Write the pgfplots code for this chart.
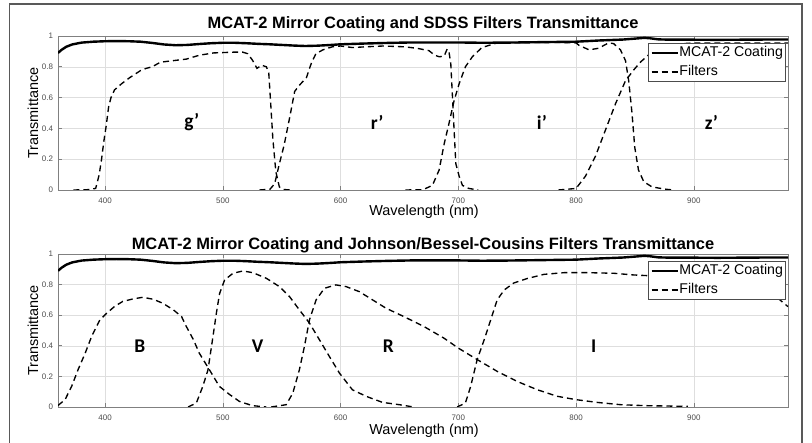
\documentclass[border=0pt]{standalone}
\usepackage{pgfplots}
\pgfplotsset{compat=1.18}
\usepackage{fontspec}
\setmainfont{Liberation Sans}
\newfontfamily\calibri{Carlito}

\tikzset{
  coat/.style={black, line width=2.4bp, solid},
  filt/.style={black, line width=1.35bp, dash pattern=on 6bp off 4bp},
  flab/.style={font=\calibri\bfseries\fontsize{19.5}{21}\selectfont},
}
\pgfplotsset{
  panel/.style={
    scale only axis, width=730bp, height=154bp,
    xmin=360, xmax=980, ymin=0, ymax=1,
    xtick={400,500,600,700,800,900},
    xticklabels={400,500,600,700,800,900},
    ytick={0,0.2,0.4,0.6,0.8,1},
    yticklabels={0,0.2,0.4,0.6,0.8,1},
    grid=major, major grid style={black!13, line width=0.5bp},
    axis line style={black!50, line width=0.7bp},
    tick style={black!50, line width=0.6bp}, tick align=inside, major tick length=4bp,
    ticklabel style={font=\fontsize{8}{9}\selectfont, text=black!70},
    xticklabel style={yshift=-4bp}, yticklabel style={xshift=-1.5bp},
    /pgf/number format/assume math mode=true,
    legend style={draw=black!70, line width=0.6bp, fill=white,
      font=\fontsize{14.2}{16}\selectfont,
      inner xsep=2bp, inner ysep=1.5bp, row sep=2.5bp,
      cells={anchor=west},
      nodes={inner xsep=0.6bp, inner ysep=1.3bp, text height=10.6bp, text depth=3.2bp}},
    legend image code/.code={\draw[#1] (0bp,0bp) -- (26bp,0bp);},
  },
}

\pgfplotstableread{
x y
360 0.890
363 0.910
367 0.930
372 0.945
380 0.957
390 0.963
400 0.966
410 0.967
420 0.966
430 0.963
440 0.955
450 0.945
460 0.940
470 0.942
480 0.948
490 0.953
500 0.956
510 0.956
520 0.953
530 0.949
540 0.946
550 0.942
560 0.938
570 0.935
580 0.937
590 0.941
600 0.946
620 0.951
640 0.955
660 0.958
680 0.958
700 0.958
720 0.956
740 0.957
760 0.959
780 0.961
800 0.963
810 0.967
820 0.971
830 0.974
840 0.977
850 0.983
858 0.988
863 0.985
870 0.978
880 0.976
900 0.976
920 0.975
940 0.976
960 0.977
980 0.977
}\coating

\pgfplotstableread{
x y
373 0
385 0.002
392 0.01
395 0.10
397 0.20
399 0.32
401 0.42
403 0.54
405 0.60
408 0.65
414 0.69
421 0.73
430 0.775
435 0.79
440 0.80
447 0.83
458 0.84
469 0.85
480 0.875
492 0.89
509 0.895
517 0.895
521 0.885
525 0.845
529 0.79
533 0.81
537 0.80
539 0.76
540.5 0.58
542.5 0.33
545 0.12
548 0.02
551 0.003
560 0
}\gband

\pgfplotstableread{
x y
531 0
540 0.005
544 0.04
548 0.17
552 0.29
557 0.48
561 0.64
565 0.68
571 0.73
575 0.82
579 0.885
585 0.91
593 0.93
600 0.935
610 0.925
622 0.93
636 0.935
654 0.93
665 0.92
675 0.905
680 0.875
684 0.865
688 0.87
690.5 0.915
692 0.90
693.6 0.82
695 0.61
696.4 0.39
697.9 0.17
700.7 0.09
703.5 0.03
709 0.01
717 0
}\rband

\pgfplotstableread{
x y
655 0
670 0.002
678 0.03
683.7 0.13
688 0.30
692 0.43
696.4 0.58
700.7 0.69
706 0.80
712 0.866
720 0.925
732 0.953
760 0.958
785 0.958
800 0.955
802.4 0.94
811 0.91
819 0.92
827.8 0.956
832 0.95
837.7 0.91
842 0.84
844.7 0.71
847.5 0.50
849.8 0.28
853 0.13
857.5 0.054
864.5 0.02
876 0.005
883 0
}\iband

\pgfplotstableread{
x y
785 0
800 0.01
808 0.09
816.5 0.22
825 0.39
833.5 0.56
842 0.71
849 0.78
854.6 0.83
862 0.88
870 0.92
880 0.945
900 0.955
940 0.955
980 0.955
}\zband

\pgfplotstableread{
x y
360 0.01
366 0.048
371.6 0.135
377 0.243
383 0.35
388.5 0.46
395.6 0.57
401 0.61
408 0.657
415 0.69
424 0.707
432 0.717
441 0.704
449 0.678
458 0.635
465 0.59
469 0.526
475 0.44
480 0.352
486 0.276
492 0.20
497 0.135
506 0.08
514 0.037
525 0.009
537 0
}\Bband

\pgfplotstableread{
x y
470.5 0
477.5 0.026
483 0.135
487.4 0.243
491.6 0.46
494.5 0.613
497.3 0.743
501.5 0.83
508.6 0.874
517 0.889
525.5 0.878
537 0.841
548 0.787
556.6 0.722
565 0.635
573.6 0.548
582 0.44
590.5 0.33
599 0.222
610 0.113
621.6 0.07
635.7 0.03
650 0.015
662 0
}\Vband

\pgfplotstableread{
x y
541 0
553.8 0.015
559.4 0.09
565 0.243
569.3 0.396
573.6 0.57
579.2 0.70
586.3 0.776
596 0.798
604.6 0.787
615.9 0.754
627.2 0.70
638.5 0.646
654 0.59
670.8 0.526
687.8 0.45
700 0.385
716 0.31
733 0.233
750 0.167
767 0.113
784 0.07
800 0.048
818 0.03
838 0.015
858 0.009
895 0.004
}\Rband

\pgfplotstableread{
x y
699 0
706 0.026
710.5 0.135
716 0.31
722 0.44
727.5 0.57
733 0.70
739 0.765
747 0.81
758.6 0.84
772.8 0.867
789.8 0.878
809.6 0.878
832 0.874
849 0.863
870 0.855
900 0.84
930 0.81
950 0.785
960 0.765
970 0.72
980 0.656
}\Iband

\begin{document}
\begin{tikzpicture}
\useasboundingbox (0bp,0bp) rectangle (812bp,443bp);
\draw[black!65, line width=1.8bp] (9.5bp,-5bp) -- (9.5bp,439bp) -- (802bp,439bp) -- (802bp,-5bp);

% titles and labels
\node[anchor=base, font=\bfseries\fontsize{16.5}{18}\selectfont] at (423bp,414bp) {MCAT-2 Mirror Coating and SDSS Filters Transmittance};
\node[anchor=base, font=\bfseries\fontsize{16.5}{18}\selectfont] at (423bp,193bp) {MCAT-2 Mirror Coating and Johnson/Bessel-Cousins Filters Transmittance};
\node[anchor=base, font=\fontsize{14.5}{16}\selectfont] at (424bp,227bp) {Wavelength (nm)};
\node[anchor=base, font=\fontsize{14.5}{16}\selectfont] at (424bp,9bp) {Wavelength (nm)};
\node[anchor=base, rotate=90, font=\fontsize{14.5}{16}\selectfont] at (38bp,330bp) {Transmittance};
\node[anchor=base, rotate=90, font=\fontsize{14.5}{16}\selectfont] at (38bp,112.5bp) {Transmittance};

\begin{axis}[panel, at={(58bp,253bp)}, anchor=south west,
  legend style={at={(0.997,0.955)}, anchor=north east}]
\addplot[coat] table {\coating};
\addlegendentry{MCAT-2 Coating}
\addplot[filt] table {\gband};
\addlegendentry{Filters}
\addplot[filt, forget plot] table {\rband};
\addplot[filt, forget plot] table {\iband};
\addplot[filt, forget plot] table {\zband};
\node[flab] at (axis cs:473.6,0.44) {g’};
\node[flab] at (axis cs:631,0.44) {r’};
\node[flab] at (axis cs:771,0.44) {i’};
\node[flab] at (axis cs:915,0.44) {z’};
\end{axis}

\begin{axis}[panel, height=153bp, at={(58bp,36bp)}, anchor=south west,
  legend style={at={(0.997,0.954)}, anchor=north east}]
\addplot[coat] table {\coating};
\addlegendentry{MCAT-2 Coating}
\addplot[filt] table {\Bband};
\addlegendentry{Filters}
\addplot[filt, forget plot] table {\Vband};
\addplot[filt, forget plot] table {\Rband};
\addplot[filt, forget plot] table {\Iband};
\node[flab] at (axis cs:429.5,0.40) {B};
\node[flab] at (axis cs:529.5,0.40) {V};
\node[flab] at (axis cs:640.5,0.40) {R};
\node[flab] at (axis cs:815,0.40) {I};
\end{axis}
\end{tikzpicture}
\end{document}
